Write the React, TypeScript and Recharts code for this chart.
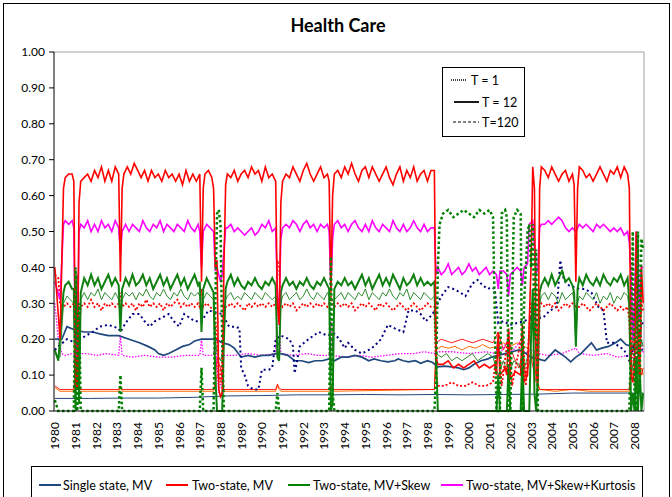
import React from 'react';
import { LineChart, Line, XAxis, YAxis, ReferenceLine } from 'recharts';

type P = [number, number];

// month index (0 = Jan 1980), value
const yearLabels = ['1980','1981','1982','1983','1984','1985','1986','1987','1988','1989','1990','1991','1992','1993','1994','1995','1996','1997','1998','1999','2000','2001','2002','2003','2004','2005','2006','2007','2008'];
const yearTicks = yearLabels.map((_, i) => i * 12);
const yTicks = [0, 0.1, 0.2, 0.3, 0.4, 0.5, 0.6, 0.7, 0.8, 0.9, 1.0];

const twoMV_T12: P[] = [[0,.40],[3,.20],[5,.62],[6,.65],[8,.66],[10,.66],[11,.64],[12,.08],[13,.06],[14,.58],[15,.64],
[17,.65],[19,.66],[21,.64],[23,.67],[25,.65],[27,.68],[29,.64],[31,.67],[33,.64],[35,.68],[37,.66],[38,.36],
[39,.62],[40,.66],[42,.68],[44,.66],[46,.69],[48,.67],[50,.65],[52,.67],[54,.64],[56,.67],[58,.65],[60,.66],[62,.64],[64,.67],[66,.65],[68,.66],[70,.64],[72,.66],[74,.63],[76,.67],[78,.64],[80,.66],[82,.64],[84,.66],
[85,.36],[86,.62],[87,.66],[89,.67],[91,.65],[92,.62],[93,.40],[94,.42],[95,.06],[96,.04],[97,.05],[98,.40],[99,.63],
[100,.66],[102,.65],[104,.67],[106,.64],[108,.66],[110,.67],[112,.65],[114,.68],[116,.66],[118,.67],[120,.64],[122,.68],[124,.65],[126,.66],[128,.64],
[129,.30],[130,.24],[131,.58],[132,.64],[134,.66],[136,.65],[138,.68],[140,.66],[142,.64],[144,.67],[146,.69],[148,.66],[150,.64],[152,.66],[154,.68],[156,.65],[158,.66],[159,.64],
[160,.33],[161,.60],[162,.66],[164,.67],[166,.65],[168,.68],[170,.66],[172,.69],[174,.66],[176,.64],[178,.67],[180,.68],[182,.65],[184,.68],[186,.66],[188,.64],[190,.66],[192,.68],[194,.65],[196,.63],[198,.66],[200,.68],[202,.64],[204,.67],[206,.65],[208,.68],[210,.64],[212,.66],[214,.67],[216,.64],[218,.67],[220,.67],
[221,.15],[222,.13],[225,.13],[228,.14],[231,.12],[234,.13],[237,.12],[240,.13],[243,.14],[246,.12],[249,.13],[252,.12],[255,.13],[256,.10],[257,.22],[258,.10],[261,.12],[262,.10],[263,.23],[264,.09],[267,.11],[270,.10],[271,.24],[272,.08],[274,.10],[276,.40],[277,.68],[278,.62],[279,.10],[280,.08],[281,.62],
[282,.68],[284,.67],[286,.65],[288,.68],[290,.66],[292,.64],[294,.66],[296,.67],[298,.64],[300,.66],[301,.63],[302,.36],[303,.62],
[304,.68],[306,.67],[308,.65],[310,.66],[312,.64],[314,.66],[316,.68],[318,.66],[320,.64],[322,.67],[324,.66],[326,.68],[328,.65],[330,.68],[332,.66],[333,.62],
[334,.10],[335,.08],[336,.12],[337,.50],[338,.20],[339,.10],[340,.40],[341,.30]];

const kurtT12: P[] = [[0,.36],[3,.31],[5,.52],[6,.53],[8,.52],[10,.53],[11,.51],[12,.15],[13,.14],[14,.50],[15,.52],
[17,.51],[19,.53],[21,.50],[23,.52],[25,.50],[27,.53],[29,.51],[31,.52],[33,.50],[35,.53],[37,.51],[38,.44],
[39,.50],[41,.52],[43,.50],[45,.52],[47,.51],[49,.50],[51,.53],[53,.51],[55,.50],[57,.52],[59,.51],[61,.53],[63,.50],[65,.52],[67,.51],[69,.50],[71,.52],[73,.51],[75,.50],[77,.53],[79,.51],[81,.50],[83,.52],[84,.50],
[85,.40],[86,.50],[88,.52],[90,.51],[92,.50],[93,.39],[94,.40],[95,.38],[96,.36],[97,.38],[98,.45],[99,.51],
[100,.51],[102,.52],[104,.50],[106,.51],[108,.50],[110,.49],[112,.50],[114,.51],[116,.49],[118,.50],[120,.52],[122,.51],[124,.53],[126,.50],[128,.51],
[129,.32],[130,.28],[131,.48],[132,.51],[134,.52],[136,.51],[138,.53],[140,.52],[142,.50],[144,.52],[146,.53],[148,.51],[150,.52],[152,.50],[154,.52],[156,.51],[158,.52],[159,.50],
[160,.34],[161,.48],[162,.52],[164,.53],[166,.51],[168,.52],[170,.50],[172,.52],[174,.53],[176,.51],[178,.50],[180,.52],[182,.50],[184,.53],[186,.51],[188,.50],[190,.52],[192,.51],[194,.50],[196,.53],[198,.51],[200,.50],[202,.52],[204,.50],[206,.51],[208,.53],[210,.51],[212,.50],[214,.52],[216,.50],[218,.51],[220,.51],
[221,.38],[222,.40],[224,.38],[226,.39],[228,.41],[230,.38],[232,.39],[234,.40],[236,.38],[238,.39],[240,.41],[242,.39],[244,.40],[246,.38],[248,.39],[250,.40],[252,.38],[254,.39],[256,.38],[257,.34],[258,.39],[260,.39],[262,.38],[263,.32],[264,.38],[266,.39],[268,.40],[270,.39],[271,.35],[272,.40],[274,.41],[275,.52],[277,.53],[279,.38],[280,.40],[281,.51],
[282,.52],[284,.52],[286,.53],[288,.52],[290,.53],[292,.54],[294,.53],[296,.51],[298,.50],[300,.51],[302,.50],
[304,.52],[306,.51],[308,.52],[310,.51],[312,.50],[314,.52],[316,.51],[318,.52],[320,.51],[322,.50],[324,.51],[326,.50],[328,.51],[330,.49],[332,.50],[333,.47],
[334,.38],[335,.20],[336,.30],[337,.50],[338,.45],[339,.25],[340,.40],[341,.40]];

const skewT12: P[] = [[0,.17],[2,.14],[5,.33],[6,.35],[8,.36],[10,.34],[11,.34],[12,0],[13,.38],[14,.02],[15,.33],
[17,.37],[19,.35],[21,.38],[23,.35],[25,.37],[27,.34],[29,.36],[31,.38],[33,.35],[35,.37],[37,.35],[38,.22],
[39,.34],[41,.37],[43,.35],[45,.38],[47,.35],[49,.36],[51,.38],[53,.35],[55,.37],[57,.34],[59,.36],[61,.38],[63,.35],[65,.37],[67,.34],[69,.36],[71,.38],[73,.35],[75,.37],[77,.34],[79,.36],[81,.38],[83,.35],[84,.36],
[85,.22],[86,.34],[88,.37],[90,.35],[92,.33],[93,.10],[94,0],[97,0],[98,.20],[99,.34],
[100,.36],[102,.38],[104,.35],[106,.37],[108,.35],[110,.34],[112,.36],[114,.35],[116,.37],[118,.35],[120,.34],[122,.36],[124,.35],[126,.37],[128,.35],
[129,.15],[130,.14],[131,.33],[132,.35],[134,.37],[136,.35],[138,.36],[140,.34],[142,.36],[144,.35],[146,.37],[148,.35],[150,.34],[152,.36],[154,.35],[156,.37],[158,.35],[159,.34],
[160,0],[161,.02],[162,.34],[164,.36],[166,.35],[168,.37],[170,.35],[172,.36],[174,.34],[176,.36],[178,.38],[180,.35],[182,.37],[184,.34],[186,.36],[188,.38],[190,.35],[192,.37],[194,.35],[196,.38],[198,.36],[200,.34],[202,.37],[204,.35],[206,.36],[208,.38],[210,.35],[212,.37],[214,.35],[216,.36],[218,.35],[220,.36],
[221,.15],[222,0],[256,0],[257,.10],[258,0],[262,0],[263,.13],[264,0],[270,0],[271,.15],[272,0],[275,0],[276,.20],[277,.34],[278,.05],[279,0],[280,.10],[281,.33],
[282,.35],[284,.37],[286,.35],[288,.38],[290,.35],[292,.37],[294,.39],[296,.36],[298,.37],[300,.35],[301,.33],[302,.18],[303,.34],
[304,.37],[306,.35],[308,.38],[310,.36],[312,.35],[314,.37],[316,.35],[318,.38],[320,.36],[322,.35],[324,.37],[326,.36],[328,.38],[330,.35],[332,.37],[333,.30],
[334,0],[335,.05],[336,0],[337,.15],[338,0],[339,.12],[340,0],[341,.05]];

const skewT120: P[] = [[0,.16],[3,.15],[5,.30],[7,.32],[9,.31],[11,.30],[12,.05],[13,.30],[14,.05],[15,.31],
[17,.33],[19,.31],[21,.33],[23,.32],[25,.34],[27,.31],[29,.33],[31,.32],[33,.31],[35,.33],[37,.31],[38,.24],
[39,.31],[41,.33],[43,.32],[45,.33],[47,.31],[49,.33],[51,.32],[53,.34],[55,.32],[57,.31],[59,.33],[61,.32],[63,.34],[65,.32],[67,.31],[69,.33],[71,.32],[73,.34],[75,.32],[77,.31],[79,.33],[81,.32],[83,.33],[84,.32],
[85,.26],[86,.31],[88,.33],[90,.32],[92,.31],[93,.20],[94,.16],[95,.15],[96,.14],[97,.16],[98,.22],[99,.31],
[100,.32],[102,.33],[104,.31],[106,.32],[108,.31],[110,.33],[112,.32],[114,.31],[116,.33],[118,.32],[120,.31],[122,.33],[124,.32],[126,.31],[128,.32],
[129,.20],[130,.18],[131,.30],[132,.32],[134,.33],[136,.31],[138,.32],[140,.33],[142,.31],[144,.32],[146,.34],[148,.32],[150,.31],[152,.33],[154,.32],[156,.31],[158,.33],[159,.32],
[160,.10],[161,.20],[162,.31],[164,.32],[166,.33],[168,.31],[170,.33],[172,.32],[174,.31],[176,.33],[178,.32],[180,.34],[182,.31],[184,.33],[186,.32],[188,.31],[190,.33],[192,.32],[194,.34],[196,.32],[198,.31],[200,.33],[202,.32],[204,.34],[206,.31],[208,.33],[210,.32],[212,.31],[214,.33],[216,.32],[218,.31],[220,.32],
[221,.16],[224,.15],[227,.16],[230,.14],[233,.15],[236,.14],[239,.15],[242,.16],[245,.14],[248,.15],[251,.16],[254,.15],[257,.10],[260,.14],[263,.10],[266,.14],[269,.13],[271,.10],[274,.15],[277,.30],[279,.15],[281,.30],
[282,.32],[284,.33],[286,.31],[288,.33],[290,.32],[292,.30],[294,.33],[296,.31],[298,.32],[300,.33],[301,.31],[302,.18],[303,.30],
[304,.32],[306,.31],[308,.33],[310,.32],[312,.31],[314,.33],[316,.30],[318,.32],[320,.31],[322,.33],[324,.30],[326,.32],[328,.31],[330,.33],[332,.32],[333,.28],
[334,.10],[336,.15],[337,.30],[338,.10],[340,.20],[341,.18]];

const twoMV_T1: P[] = [[0,.38],[2,.37],[3,.30],[5,.29],[7,.30],[9,.29],[11,.30],[12,.22],[13,.28],[14,.22],[15,.29],
[17,.30],[19,.29],[21,.31],[23,.29],[25,.30],[27,.28],[29,.30],[31,.29],[33,.30],[35,.29],[37,.30],[38,.33],
[39,.29],[41,.30],[43,.29],[45,.30],[47,.28],[49,.30],[51,.29],[53,.31],[55,.29],[57,.30],[59,.29],[61,.30],[63,.28],[65,.30],[67,.29],[69,.30],[71,.31],[73,.29],[75,.30],[77,.29],[79,.30],[81,.29],[83,.30],[84,.29],
[85,.34],[86,.29],[88,.30],[90,.29],[92,.28],[93,.26],[94,.20],[95,.10],[96,.08],[97,.15],[98,.27],[99,.29],
[100,.29],[102,.30],[104,.29],[106,.30],[108,.29],[110,.28],[112,.30],[114,.29],[116,.30],[118,.29],[120,.30],[122,.29],[124,.30],[126,.29],[128,.30],
[129,.42],[130,.40],[131,.30],[132,.29],[134,.30],[136,.29],[138,.30],[140,.28],[142,.29],[144,.30],[146,.29],[148,.30],[150,.29],[152,.30],[154,.29],[156,.30],[158,.29],[159,.30],
[160,.32],[161,.30],[162,.29],[164,.30],[166,.29],[168,.30],[170,.29],[172,.30],[174,.28],[176,.29],[178,.30],[180,.29],[182,.30],[184,.29],[186,.28],[188,.30],[190,.29],[192,.30],[194,.29],[196,.28],[198,.29],[200,.30],[202,.29],[204,.28],[206,.29],[208,.30],[210,.29],[212,.28],[214,.29],[216,.30],[218,.29],[220,.29],
[221,.10],[222,.07],[226,.07],[230,.08],[234,.07],[238,.07],[242,.08],[246,.07],[250,.07],[254,.08],[257,.20],[259,.07],[263,.22],[265,.07],[271,.22],[273,.07],[276,.30],[278,.30],[280,.10],[281,.29],
[282,.30],[284,.29],[286,.30],[288,.29],[290,.30],[292,.28],[294,.29],[296,.30],[298,.29],[300,.30],[302,.29],
[304,.29],[306,.30],[308,.29],[310,.28],[312,.29],[314,.30],[316,.29],[318,.28],[320,.29],[322,.30],[324,.29],[326,.28],[328,.29],[330,.28],[332,.29],[333,.25],
[334,.10],[336,.30],[337,.05],[338,.35],[339,.10],[340,.30],[341,.28]];

const twoMV_T120: P[] = [[0,.07],[3,.06],[11,.06],[12,.12],[13,.10],[14,.06],[37,.06],[38,.07],[39,.06],[92,.06],[93,.08],[94,.15],[96,.12],[98,.06],[128,.06],[129,.075],[130,.065],[131,.06],[159,.06],[160,.07],[161,.06],[220,.06],
[221,.19],[224,.20],[230,.19],[236,.20],[242,.19],[248,.20],[254,.19],[257,.22],[260,.17],[263,.20],[266,.15],[269,.12],[271,.16],[273,.10],[276,.15],[279,.08],[281,.06],[333,.06],[334,.12],[336,.08],[338,.14],[340,.10],[341,.12]];

const kurtT120: P[] = [[0,.065],[3,.055],[11,.055],[12,.09],[13,.08],[14,.055],[37,.055],[38,.065],[39,.055],[92,.055],[93,.07],[94,.10],[97,.08],[98,.055],[128,.055],[129,.07],[130,.06],[131,.055],[159,.055],[160,.06],[161,.055],[220,.06],
[221,.17],[224,.18],[228,.175],[232,.18],[236,.17],[240,.18],[244,.175],[248,.185],[252,.175],[256,.18],[260,.19],[264,.18],[268,.19],[272,.18],[276,.17],[279,.10],[281,.06],[290,.055],[300,.06],[310,.055],[320,.055],[333,.055],[334,.10],[336,.15],[338,.08],[340,.12],[341,.10]];

const kurtT1: P[] = [[0,.30],[2,.20],[4,.16],[6,.155],[10,.16],[11,.16],[12,.05],[13,.30],[14,.16],[18,.16],[24,.155],[30,.16],[37,.155],[38,.21],[39,.155],[45,.15],[52,.155],[60,.15],[68,.15],[76,.155],[84,.155],[85,.20],[86,.155],[92,.155],[93,.20],[95,.05],[97,.10],[98,.155],[104,.155],[112,.16],[120,.155],[128,.16],[129,.30],[130,.25],[131,.16],[138,.155],[146,.16],[152,.155],[159,.155],[160,.25],[161,.155],[168,.15],[176,.155],[184,.15],[192,.155],[200,.16],[208,.16],[214,.165],[220,.16],
[221,.165],[230,.165],[240,.16],[250,.165],[256,.16],[257,.20],[258,.16],[263,.20],[264,.16],[271,.20],[272,.16],[276,.17],[280,.16],[286,.155],[294,.16],[302,.175],[304,.16],[312,.155],[320,.16],[326,.15],[333,.155],[334,.30],[336,.10],[338,.40],[340,.20],[341,.16]];

const singleT120: P[] = [[0,.035],[20,.035],[40,.036],[60,.036],[80,.038],[100,.042],[120,.043],[140,.045],[160,.045],[180,.046],[200,.045],[220,.046],[240,.045],[260,.046],[280,.047],[300,.05],[320,.05],[341,.05]];

const skewT1: P[] = [[0,.03],[2,0],[11,0],[12,.40],[13,0],[14,.30],[15,0],[37,0],[38,.10],[39,0],[84,0],[85,.12],[86,0],[92,0],[93,.30],[94,.55],[95,.56],[96,.52],[97,.20],[98,0],[128,0],[129,.05],[130,0],[159,0],[160,.43],[161,.05],[162,0],[220,0],
[221,.10],[222,.40],[223,.52],[225,.55],[228,.56],[231,.54],[234,.55],[237,.56],[240,.55],[243,.54],[246,.56],[249,.55],[252,.56],[254,.54],[256,0],[258,0],[259,.55],[261,.56],[262,.54],[263,0],[264,0],[266,.54],[268,.56],[270,.55],[271,0],[272,.30],[274,.50],[275,.52],[276,.40],[277,.52],[278,.20],[279,.45],[280,0],[281,0],[333,0],[334,.20],[335,.50],[336,.05],[337,0],[338,.50],[339,.05],[340,.48],[341,.45]];

const singleT1: P[] = [[0,.17],[2,.18],[7,.20],[12,.19],[18,.21],[22,.22],[26,.235],[31,.24],[37,.23],[38,.22],[41,.245],[45,.27],[49,.27],[52,.25],[55,.235],[58,.25],[62,.26],[66,.27],[69,.25],[72,.235],[75,.27],[78,.26],[81,.25],[85,.25],[89,.28],[93,.275],[97,.27],[101,.235],[105,.235],[107,.23],[108,.12],[110,.10],[112,.07],[115,.06],[118,.06],[120,.115],[124,.115],[126,.12],[128,.20],[131,.21],[136,.20],[138,.18],[139,.105],[142,.18],[147,.20],[150,.21],[153,.22],[158,.21],[162,.215],[165,.20],[168,.175],[170,.19],[174,.17],[178,.16],[182,.17],[185,.18],[189,.20],[193,.24],[197,.23],[202,.22],[205,.28],[209,.28],[212,.27],[215,.25],[219,.27],[222,.30],[224,.32],[228,.345],[231,.34],[235,.33],[238,.32],[242,.355],[245,.365],[248,.35],[251,.34],[253,.345],[255,.34],[257,.245],[260,.25],[264,.24],[268,.245],[272,.25],[276,.26],[280,.26],[283,.26],[287,.28],[291,.29],[293,.42],[295,.365],[298,.35],[301,.345],[304,.34],[307,.34],[311,.33],[315,.29],[318,.28],[320,.19],[324,.19],[327,.18],[330,.17],[333,.14],[336,.19],[338,.21],[341,.25]];

const singleT12: P[] = [[0,.20],[4,.20],[7,.235],[12,.225],[17,.22],[22,.22],[26,.215],[31,.21],[37,.21],[43,.20],[49,.19],[54,.18],[58,.17],[60,.16],[63,.155],[66,.16],[70,.17],[74,.18],[78,.185],[81,.195],[85,.20],[89,.20],[93,.20],[97,.19],[101,.185],[104,.175],[108,.15],[112,.155],[116,.15],[120,.155],[124,.155],[128,.16],[131,.16],[135,.155],[139,.14],[143,.14],[147,.135],[151,.14],[155,.14],[159,.145],[162,.14],[166,.15],[170,.15],[174,.155],[178,.15],[182,.14],[185,.145],[189,.14],[193,.137],[197,.14],[199,.145],[202,.14],[205,.137],[209,.14],[212,.133],[216,.14],[219,.135],[222,.123],[226,.125],[230,.123],[234,.12],[237,.115],[240,.12],[243,.13],[247,.14],[251,.145],[253,.15],[257,.155],[261,.16],[265,.165],[269,.17],[273,.16],[276,.15],[280,.145],[284,.14],[288,.16],[290,.17],[293,.16],[296,.15],[299,.137],[302,.15],[305,.16],[308,.175],[311,.19],[314,.17],[317,.175],[321,.18],[325,.19],[328,.20],[331,.185],[334,.18],[338,.17],[341,.17]];

const rows = (a: P[]) => a.map(([m, v]) => ({ m, v }));

const FONT = 'Lato, "Open Sans", sans-serif';

const series = [
  { key: 'singleT120', data: singleT120, stroke: '#1F497D', w: 1, dash: undefined },
  { key: 'kurtT120', data: kurtT120, stroke: '#FF6A00', w: 1, dash: undefined },
  { key: 'twoMV_T120', data: twoMV_T120, stroke: '#FF0000', w: 0.9, dash: undefined },
  { key: 'kurtT1', data: kurtT1, stroke: '#FF00FF', w: 1.3, dash: '1.5 1.5' },
  { key: 'singleT12', data: singleT12, stroke: '#1F497D', w: 1.7, dash: undefined },
  { key: 'singleT1', data: singleT1, stroke: '#000080', w: 2, dash: '2 3' },
  { key: 'twoMV_T1', data: twoMV_T1, stroke: '#FF0000', w: 1.8, dash: '2 2' },
  { key: 'skewT120', data: skewT120, stroke: '#2E8B2E', w: 1, dash: undefined },
  { key: 'skewT12', data: skewT12, stroke: '#108010', w: 2, dash: undefined },
  { key: 'kurtT12', data: kurtT12, stroke: '#FF00FF', w: 1.6, dash: undefined },
  { key: 'twoMV_T12', data: twoMV_T12, stroke: '#FF0000', w: 1.6, dash: undefined },
  { key: 'skewT1', data: skewT1, stroke: '#008000', w: 2.5, dash: '2.5 2.5' },
];

const XTick = (props: any) => {
  const { x, payload } = props;
  const y0 = 422;
  const label = yearLabels[Math.round(payload.value / 12)];
  return (
    <text x={x} y={y0} transform={`rotate(-90 ${x} ${y0})`} textAnchor="end" dominantBaseline="central" fontSize={12} fontFamily={FONT} fill="#000">
      {label}
    </text>
  );
};

const legendItems = [
  { label: 'Single state, MV', color: '#1F497D', lx: 39, tx: 63 },
  { label: 'Two-state, MV', color: '#FF0000', lx: 166, tx: 192 },
  { label: 'Two-state, MV+Skew', color: '#008000', lx: 288, tx: 313 },
  { label: 'Two-state, MV+Skew+Kurtosis', color: '#FF00FF', lx: 441, tx: 466 },
];

export default function App() {
  return (
    <div style={{ position: 'absolute', left: 0, top: 0, width: 672, height: 497, overflow: 'hidden', background: '#fff', fontFamily: FONT }}>
      <div style={{ position: 'absolute', left: 3, top: 3, width: 667, height: 530, border: '1px solid #000', boxSizing: 'border-box' }} />
      <div style={{ position: 'absolute', left: 238, top: 14, width: 200, textAlign: 'center', fontSize: 18, fontWeight: 700, lineHeight: '22px', color: '#000' }}>Health Care</div>
      <div style={{ position: 'absolute', left: 0, top: 0 }}>
        <LineChart width={672} height={497} margin={{ top: 52, right: 28, bottom: 46, left: 0 }}>
          <XAxis dataKey="m" type="number" domain={[-0.5, 341.5]} ticks={yearTicks} tick={<XTick />} tickLine={false} axisLine={{ stroke: '#000' }} height={40} allowDataOverflow interval={0} />
          <YAxis type="number" domain={[0, 1]} ticks={yTicks} tickFormatter={(v: number) => v.toFixed(2)} width={54} tick={{ fontSize: 12, fontFamily: FONT, fill: '#000' }} tickSize={5} tickMargin={4} axisLine={{ stroke: '#000' }} tickLine={{ stroke: '#000' }} interval={0} />
          <ReferenceLine y={1} stroke="#A0A0A0" ifOverflow="visible" />
          <ReferenceLine x={341.5} stroke="#A0A0A0" ifOverflow="visible" />
          {series.map((s) => (
            <Line key={s.key} data={rows(s.data)} dataKey="v" type="linear" stroke={s.stroke} strokeWidth={s.w} strokeDasharray={s.dash} dot={false} activeDot={false} isAnimationActive={false} />
          ))}
        </LineChart>
      </div>
      <div style={{ position: 'absolute', left: 442, top: 67, width: 83, height: 70, border: '1px solid #000', boxSizing: 'border-box', background: '#fff' }}>
        <svg width={83} height={70} style={{ position: 'absolute', left: -1, top: -1 }}>
          <line x1={9} x2={25} y1={13} y2={13} stroke="#000" strokeWidth={1.3} strokeDasharray="1 1" />
          <line x1={12} x2={37} y1={35} y2={35} stroke="#000" strokeWidth={1.8} />
          <line x1={11} x2={37} y1={55} y2={55} stroke="#000" strokeWidth={1.2} strokeDasharray="3 2" />
          <text x={29} y={13} dominantBaseline="central" fontSize={12.5} fontFamily={FONT}>T = 1</text>
          <text x={40} y={35} dominantBaseline="central" fontSize={12.5} fontFamily={FONT}>T = 12</text>
          <text x={40} y={55} dominantBaseline="central" fontSize={12.5} fontFamily={FONT}>T=120</text>
        </svg>
      </div>
      <div style={{ position: 'absolute', left: 31, top: 466, width: 612, height: 60, border: '1px solid #000', boxSizing: 'border-box' }} />
      <svg width={672} height={497} style={{ position: 'absolute', left: 0, top: 0, pointerEvents: 'none' }}>
        {legendItems.map((it) => (
          <g key={it.label}>
            <line x1={it.lx} x2={it.lx + 22} y1={485} y2={485} stroke={it.color} strokeWidth={2} />
            <text x={it.tx} y={485} dominantBaseline="central" fontSize={12.5} fontFamily={FONT} fill="#000">{it.label}</text>
          </g>
        ))}
      </svg>
    </div>
  );
}
